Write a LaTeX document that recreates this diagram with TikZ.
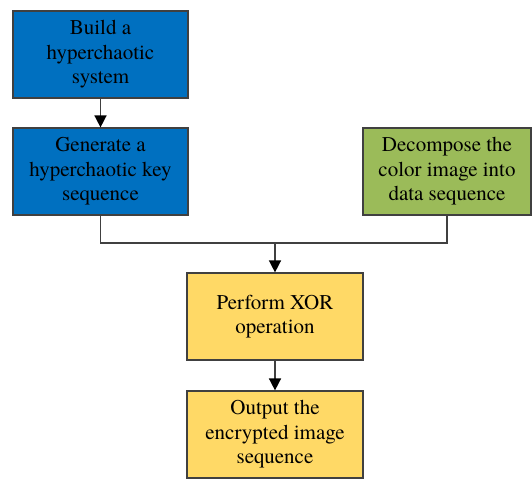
\documentclass[tikz,border=0pt]{standalone}
\usepackage{fontspec}
\setmainfont{TeX Gyre Termes}
\usetikzlibrary{arrows.meta}

\definecolor{stepblue}{HTML}{0070C0}
\definecolor{stepgreen}{HTML}{9BBB59}
\definecolor{stepyellow}{HTML}{FFD966}
\definecolor{edgegray}{HTML}{404040}

\begin{document}
\begin{tikzpicture}[
    x=1pt, y=1pt,
    stage/.style={
        draw=edgegray,
        line width=1.2pt,
        rectangle,
        minimum width=175pt,
        minimum height=87pt,
        inner sep=0pt,
        align=center,
        font=\fontsize{21}{24.5}\selectfont
    },
    flow/.style={
        -{Triangle[length=12pt,width=12pt,color=black]},
        line width=1.5pt,
        draw=edgegray
    },
    link/.style={
        line width=1.5pt,
        draw=edgegray
    }
]
    \useasboundingbox (0,0) rectangle (532,-479);

    % Key stream branch
    \node[stage, fill=stepblue] (build) at (100.5,-54.5) {Build a\\hyperchaotic\\system};
    \node[stage, fill=stepblue] (keyseq) at (100.5,-171.5) {Generate a\\hyperchaotic key\\sequence};

    % Image data branch
    \node[stage, fill=stepgreen, minimum width=168pt] (decomp) at (447,-171.5) {Decompose the\\color image into\\data sequence};

    % Encryption layer
    \node[stage, fill=stepyellow, minimum width=176pt] (xorop) at (275,-316.5) {Perform XOR\\operation};
    \node[stage, fill=stepyellow, minimum width=176pt] (output) at (275,-434.5) {Output the\\encrypted image\\sequence};

    \coordinate (join) at (275,-243);

    % Connections
    \draw[flow] (build) -- (keyseq);
    \draw[link] (keyseq.south) |- (join) -| (decomp.south);
    \draw[flow] (join) -- (xorop.north);
    \draw[flow] (xorop) -- (output);

\end{tikzpicture}
\end{document}
